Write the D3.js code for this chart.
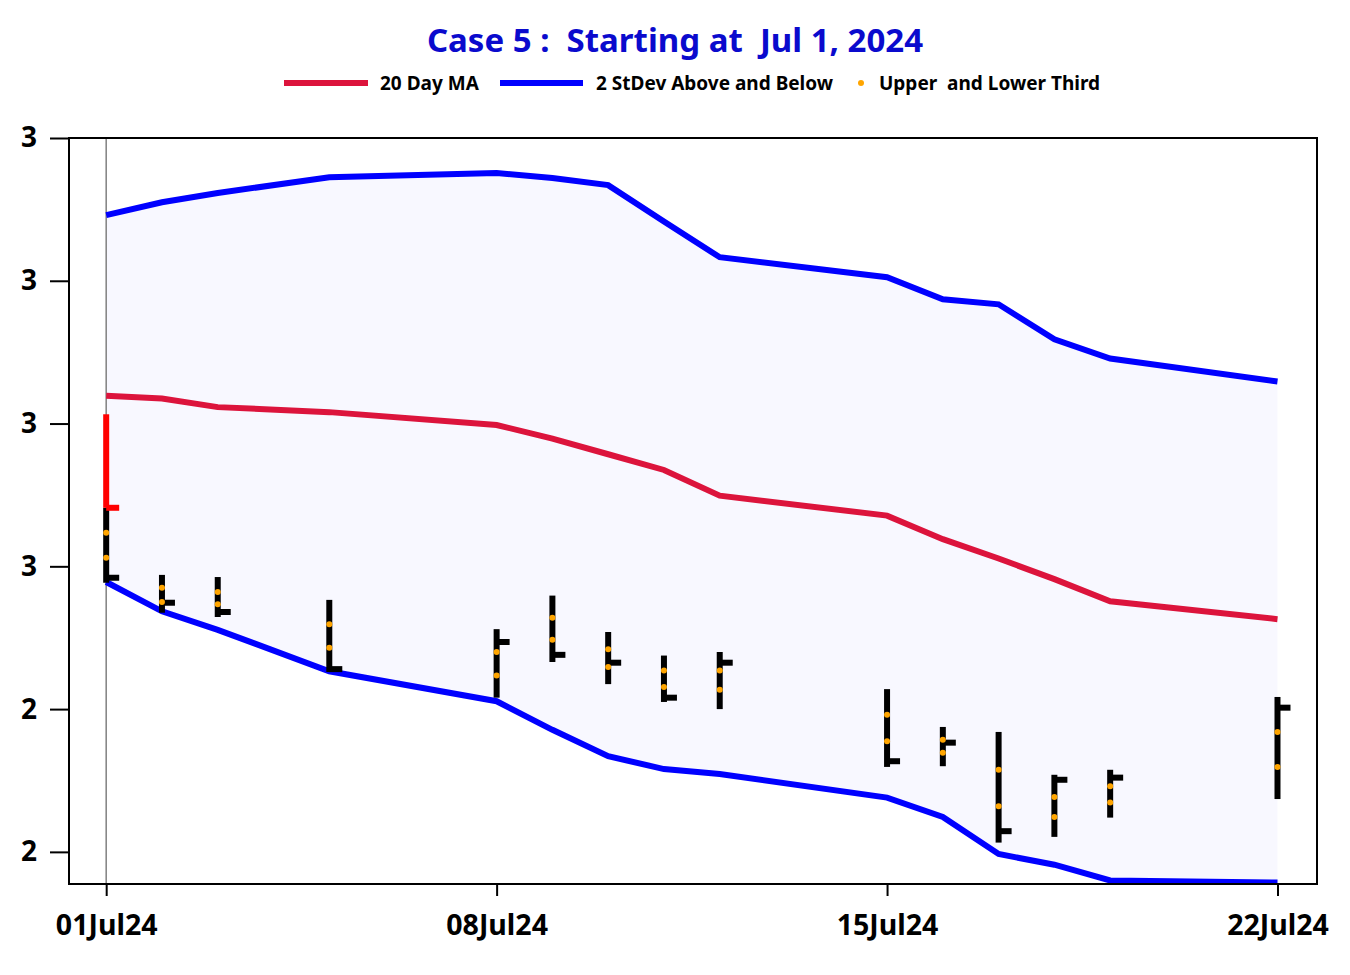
<!DOCTYPE html>
<meta charset="utf-8">

<!-- Load d3.js -->
<script src="https://d3js.org/d3.v7.min.js"></script>

<style>
    body { margin: 0; background: #fff; }
    text { font-family: "Noto Sans", sans-serif; font-weight: bold; }
</style>

<!-- Create a div where the graph will take place -->
<div id="my_dataviz"></div>

<script>

    // trading days shown
    var dates = ["2024-07-01", "2024-07-02", "2024-07-03", "2024-07-05", "2024-07-08",
        "2024-07-09", "2024-07-10", "2024-07-11", "2024-07-12", "2024-07-15",
        "2024-07-16", "2024-07-17", "2024-07-18", "2024-07-19", "2024-07-22"];

    // bands and moving average
    var upperBand = [3.092, 3.110, 3.123, 3.145, 3.151, 3.144, 3.134, 3.083, 3.033, 3.005, 2.974, 2.967, 2.918, 2.891, 2.859];
    var movingAvg = [2.839, 2.835, 2.823, 2.816, 2.798, 2.779, 2.757, 2.735, 2.699, 2.671, 2.638, 2.611, 2.582, 2.551, 2.526];
    var lowerBand = [2.578, 2.537, 2.511, 2.453, 2.411, 2.371, 2.334, 2.316, 2.309, 2.276, 2.249, 2.197, 2.182, 2.160, 2.157];

    // daily bars
    var highs  = [2.682, 2.588, 2.585, 2.553, 2.512, 2.559, 2.508, 2.475, 2.480, 2.428, 2.375, 2.368, 2.308, 2.315, 2.417];
    var lows   = [2.577, 2.535, 2.529, 2.452, 2.416, 2.466, 2.435, 2.410, 2.400, 2.319, 2.320, 2.213, 2.221, 2.248, 2.274];
    var closes = [2.584, 2.549, 2.536, 2.456, 2.494, 2.476, 2.465, 2.416, 2.465, 2.327, 2.353, 2.229, 2.301, 2.304, 2.402];
    var upperThird = [2.647, 2.570, 2.564, 2.519, 2.480, 2.528, 2.484, 2.454, 2.454, 2.392, 2.357, 2.315, 2.277, 2.292, 2.368];
    var lowerThird = [2.612, 2.550, 2.547, 2.486, 2.447, 2.497, 2.459, 2.431, 2.427, 2.355, 2.339, 2.264, 2.249, 2.269, 2.319];

    // the starting day bar, drawn in red
    var startHigh = 2.813, startLow = 2.682, startClose = 2.682;

    var yTicks = [2.2, 2.4, 2.6, 2.8, 3.0, 3.2];
    var xTicks = ["2024-07-01", "2024-07-08", "2024-07-15", "2024-07-22"];

    var parse = d3.utcParse("%Y-%m-%d");
    var days = dates.map(parse);

    // set the dimensions and margins of the graph
    var margin = { top: 138, right: 33, bottom: 91, left: 69 },
        width = 1350 - margin.left - margin.right,
        height = 975 - margin.top - margin.bottom;

    var root = d3.select("#my_dataviz")
        .append("svg")
        .attr("width", 1350)
        .attr("height", 975);

    var svg = root.append("g")
        .attr("transform", "translate(" + margin.left + "," + margin.top + ")");

    // title
    root.append("text")
        .attr("x", 675)
        .attr("y", 52)
        .attr("text-anchor", "middle")
        .style("font-size", "33px")
        .style("fill", "#0a0acd")
        .style("white-space", "pre")
        .text("Case 5 :  Starting at  Jul 1, 2024");

    // legend
    var legend = root.append("g").style("font-size", "19px");
    legend.append("line").attr("x1", 284).attr("x2", 368).attr("y1", 83).attr("y2", 83)
        .attr("stroke", "crimson").attr("stroke-width", 6);
    legend.append("text").attr("x", 380).attr("y", 83).attr("dy", "0.35em").text("20 Day MA");
    legend.append("line").attr("x1", 500).attr("x2", 583).attr("y1", 83).attr("y2", 83)
        .attr("stroke", "blue").attr("stroke-width", 6);
    legend.append("text").attr("x", 596).attr("y", 83).attr("dy", "0.35em").text("2 StDev Above and Below");
    legend.append("circle").attr("cx", 861).attr("cy", 83).attr("r", 3).attr("fill", "orange");
    legend.append("text").attr("x", 879).attr("y", 83).attr("dy", "0.35em")
        .style("white-space", "pre").text("Upper  and Lower Third");

    // X axis
    var x = d3.scaleUtc()
        .domain([d3.utcHour.offset(days[0], -16), d3.utcHour.offset(days[days.length - 1], 17)])
        .range([0, width]);

    // Y axis
    var y = d3.scaleLinear()
        .domain([2.155, 3.2])
        .range([height, 0]);

    svg.append("clipPath").attr("id", "plotclip")
        .append("rect").attr("width", width).attr("height", height);

    var plot = svg.append("g").attr("clip-path", "url(#plotclip)");

    // band fill
    plot.append("path")
        .datum(d3.range(days.length))
        .attr("fill", "#f8f8ff")
        .attr("d", d3.area()
            .x(function (i) { return x(days[i]); })
            .y0(function (i) { return y(lowerBand[i]); })
            .y1(function (i) { return y(upperBand[i]); }));

    // start day marker
    plot.append("line")
        .attr("x1", x(days[0])).attr("x2", x(days[0]))
        .attr("y1", 0).attr("y2", height)
        .attr("stroke", "gray").attr("stroke-width", 1.5);

    function addLine(values, color) {
        plot.append("path")
            .datum(d3.range(days.length))
            .attr("fill", "none")
            .attr("stroke", color)
            .attr("stroke-width", 6)
            .attr("d", d3.line()
                .x(function (i) { return x(days[i]); })
                .y(function (i) { return y(values[i]); }));
    }
    addLine(movingAvg, "crimson");
    addLine(upperBand, "blue");
    addLine(lowerBand, "blue");

    // bars
    function addBar(day, hi, lo, cl, color) {
        plot.append("line")
            .attr("x1", x(day)).attr("x2", x(day))
            .attr("y1", y(hi)).attr("y2", y(lo))
            .attr("stroke", color).attr("stroke-width", 6);
        plot.append("line")
            .attr("x1", x(day)).attr("x2", x(day) + 13)
            .attr("y1", y(cl)).attr("y2", y(cl))
            .attr("stroke", color).attr("stroke-width", 6);
    }
    days.forEach(function (d, i) {
        addBar(d, highs[i], lows[i], closes[i], "black");
    });
    addBar(days[0], startHigh, startLow, startClose, "red");

    days.forEach(function (d, i) {
        plot.append("circle").attr("cx", x(d)).attr("cy", y(upperThird[i])).attr("r", 3).attr("fill", "orange");
        plot.append("circle").attr("cx", x(d)).attr("cy", y(lowerThird[i])).attr("r", 3).attr("fill", "orange");
    });

    // frame
    svg.append("rect")
        .attr("width", width).attr("height", height)
        .attr("fill", "none").attr("stroke", "black").attr("stroke-width", 2);

    var xAxis = svg.append("g")
        .attr("transform", "translate(0," + height + ")")
        .call(d3.axisBottom(x)
            .tickValues(xTicks.map(parse))
            .tickFormat(d3.utcFormat("%d%b%y"))
            .tickSize(12)
            .tickPadding(19));
    xAxis.select(".domain").remove();
    xAxis.selectAll("line").attr("stroke-width", 2);
    xAxis.selectAll("text").style("font-size", "28.5px").attr("fill", "black")
        .style("font-family", "'Noto Sans', sans-serif");

    var yAxis = svg.append("g")
        .call(d3.axisLeft(y)
            .tickValues(yTicks)
            .tickFormat(d3.format(".0f"))
            .tickSize(19)
            .tickPadding(13));
    yAxis.select(".domain").remove();
    yAxis.selectAll("line").attr("stroke-width", 2);
    yAxis.selectAll("text").style("font-size", "28px").attr("fill", "black")
        .style("font-family", "'Noto Sans', sans-serif");

</script>
